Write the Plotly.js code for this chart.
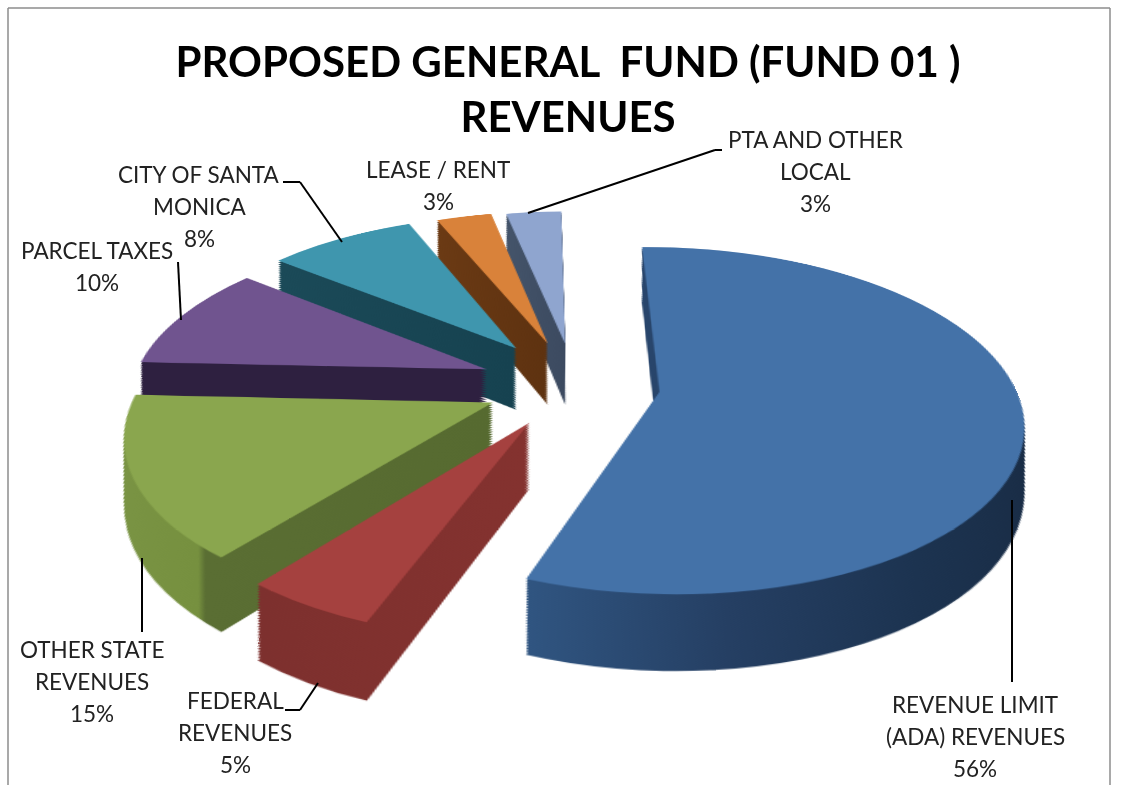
<!DOCTYPE html>
<html><head><meta charset="utf-8">
<script src="https://cdn.plot.ly/plotly-3.0.1.min.js"></script>
<style>html,body{margin:0;padding:0;background:#fff;overflow:hidden}#g{width:1121px;height:785px}</style>
</head><body><div id="g"></div>
<script>
const categories=["REVENUE LIMIT (ADA) REVENUES","FEDERAL REVENUES","OTHER STATE REVENUES","PARCEL TAXES","CITY OF SANTA MONICA","LEASE / RENT","PTA AND OTHER LOCAL"];
const values=[56,5,15,10,8,3,3];
const pulls=[0.24,0.25,0.25,0.27,0.285,0.27,0.26];
const topColors=["#4472a8","#a5413f","#8aa64e","#70548f","#3f96ae","#d9823a","#8fa5cf"];
const wallColors=["#203d5f","#7c2f2d","#6a8238","#2e2040","#1b4a58","#6b3a14","#44546a"];
const wallStops=[
  [[0,"#305581"],[0.35,"#253f63"],[0.7,"#1c3350"],[1,"#192c45"]],
  [[0,"#7d302e"],[1,"#84322f"]],
  [[0,"#7a9444"],[0.31,"#76903f"],[0.33,"#5a6e33"],[1,"#566a30"]],
  [[0,"#2e2040"],[1,"#2e2040"]],
  [[0,"#1b4a58"],[1,"#164250"]],
  [[0,"#6b3a14"],[1,"#5e3210"]],
  [[0,"#44546a"],[1,"#3c4a60"]]];
const W=1121,H=785;
const labelLines=[["REVENUE LIMIT","(ADA) REVENUES","56%"],["FEDERAL","REVENUES","5%"],["OTHER STATE","REVENUES","15%"],["PARCEL TAXES","10%"],["CITY OF SANTA","MONICA","8%"],["LEASE / RENT","3%"],["PTA AND OTHER","LOCAL","3%"]];
const labelPos=[[975,736],[235,732],[92,681],[97,267],[199,207],[438,186],[815,172]];
const leaders=[[[1012,500],[1012,682]],[[285,710],[300,710],[318,683]],[[142,558],[142,632]],[[178,262],[181,320]],[[283,182],[300,182],[342,242]],[[528,213],[715,150],[722,150]]];
const frame=[[[8,785],[8,8],[1110,8],[1110,785]]];

const PIE=640, CX=560, CY=320, LAYERS=28, STEP=3.2, SHRINK=0.06, LINE_GAP=32;
function pieTrace(shift,colors,size){
  return {type:'pie',values:values,labels:categories,pull:pulls,rotation:-1,direction:'clockwise',sort:false,
    textinfo:'none',hoverinfo:'none',showlegend:false,
    marker:{colors:colors,line:{width:0}},
    domain:{x:[(CX-size/2)/W,(CX+size/2)/W],y:[1-(CY+shift+size/2)/H,1-(CY+shift-size/2)/H]}};
}
const traces=[];
for(let i=LAYERS;i>=1;i--)traces.push(pieTrace(i*STEP,wallColors,PIE*(1-SHRINK*i/LAYERS)));
traces.push(pieTrace(0,topColors,PIE));

function lineShapes(paths,color,width){
  const out=[];
  paths.forEach(p=>{for(let i=0;i<p.length-1;i++)out.push({type:'line',layer:'above',xref:'paper',yref:'paper',
    x0:p[i][0]/W,y0:1-p[i][1]/H,x1:p[i+1][0]/W,y1:1-p[i+1][1]/H,line:{color:color,width:width}});});
  return out;
}
const annotations=[];
labelLines.forEach((lines,i)=>lines.forEach((t,j)=>annotations.push({text:t,showarrow:false,xref:'paper',yref:'paper',
  x:labelPos[i][0]/W,y:1-(labelPos[i][1]+(j-(lines.length-1)/2)*LINE_GAP)/H,
  xanchor:'center',yanchor:'middle',align:'center',font:{family:'Lato, sans-serif',size:22.5,color:'#222'}})));
const layout={width:W,height:H,margin:{l:0,r:0,t:0,b:0},paper_bgcolor:'rgba(0,0,0,0)',
  title:{text:"<b>PROPOSED GENERAL  FUND (FUND 01 )<br>REVENUES</b>",x:568/W,xanchor:'center',y:1-77/H,yanchor:'middle',
    font:{family:'Lato, sans-serif',size:42,color:'#000'}},
  shapes:lineShapes(leaders,'#000',2).concat(lineShapes(frame,'#8c8c8c',1.5)),
  annotations:annotations};
Plotly.newPlot('g',traces,layout,{displayModeBar:false,staticPlot:true}).then(()=>{
  const svg=document.querySelector('#g svg.main-svg');
  const NS='http://www.w3.org/2000/svg';
  const defs=svg.querySelector('defs')||svg.insertBefore(document.createElementNS(NS,'defs'),svg.firstChild);
  wallStops.forEach((stops,k)=>{
    const lg=document.createElementNS(NS,'linearGradient');
    lg.setAttribute('id','wall'+k);
    stops.forEach(s=>{const st=document.createElementNS(NS,'stop');st.setAttribute('offset',s[0]);st.setAttribute('stop-color',s[1]);lg.appendChild(st);});
    defs.appendChild(lg);
  });
  const pieTraces=svg.querySelectorAll('.pielayer .trace');
  pieTraces.forEach((tr,ti)=>{
    if(ti===pieTraces.length-1)return;
    tr.querySelectorAll('.slice').forEach((sl,k)=>{
      const p=sl.querySelector('path.surface');
      if(p)p.style.fill='url(#wall'+k+')';
    });
  });
  svg.style.transformOrigin=CX+'px '+CY+'px';
  svg.style.transform='translate(15px,65px) perspective(1900px) rotateX(62deg) scale(1.425)';
  svg.style.overflow='visible';
});
</script></body></html>
